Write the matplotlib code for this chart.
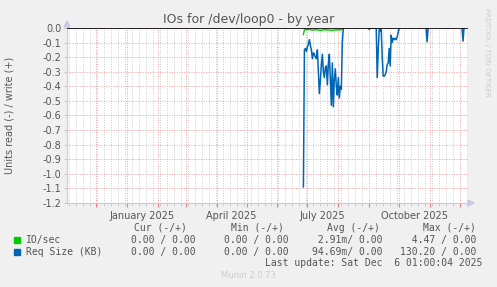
import numpy as np
import matplotlib
matplotlib.use("Agg")
import matplotlib.pyplot as plt
import matplotlib.dates as mdates

plt.rcParams['axes.unicode_minus'] = False

W, H = 497, 287

# read side values (plotted negative), one point per day
blue_dates = ['2025-06-27', '2025-06-28', '2025-06-29', '2025-06-30', '2025-07-01',
              '2025-07-02', '2025-07-03', '2025-07-04', '2025-07-05', '2025-07-06',
              '2025-07-07', '2025-07-08', '2025-07-09', '2025-07-10', '2025-07-11',
              '2025-07-12', '2025-07-13', '2025-07-14', '2025-07-15', '2025-07-16',
              '2025-07-17', '2025-07-18', '2025-07-19', '2025-07-20', '2025-07-21',
              '2025-07-22', '2025-07-23', '2025-07-24', '2025-07-25', '2025-07-26',
              '2025-07-27', '2025-07-28', '2025-07-29', '2025-07-30', '2025-07-31',
              '2025-08-01', '2025-08-02', '2025-08-03', '2025-08-04', '2025-08-05',
              '2025-08-06',
              '2025-09-01', '2025-09-02', '2025-09-08', '2025-09-09', '2025-09-10',
              '2025-09-11', '2025-09-12', '2025-09-13', '2025-09-14', '2025-09-15',
              '2025-09-16', '2025-09-17', '2025-09-18', '2025-09-19', '2025-09-20',
              '2025-09-21', '2025-09-22', '2025-09-23', '2025-09-24', '2025-09-25',
              '2025-09-26', '2025-09-27', '2025-09-28', '2025-09-29', '2025-09-30',
              '2025-10-01',
              '2025-10-28', '2025-10-29', '2025-10-30',
              '2025-12-03', '2025-12-04', '2025-12-05']
blue_vals = [-1.09, -0.15, -0.14, -0.16, -0.13,
             -0.11, -0.08, -0.12, -0.15, -0.21,
             -0.17, -0.18, -0.20, -0.21, -0.15,
             -0.30, -0.45, -0.36, -0.25, -0.18,
             -0.30, -0.34, -0.27, -0.26, -0.39,
             -0.25, -0.18, -0.35, -0.53, -0.24,
             -0.54, -0.35, -0.28, -0.40, -0.46,
             -0.34, -0.48, -0.40, -0.42, -0.10,
             0.0,
             -0.01, 0.0, 0.0, -0.34, -0.15,
             -0.01, -0.02, -0.01, -0.20, -0.33,
             -0.33, -0.32, -0.30, -0.25, -0.24,
             -0.14, -0.26, -0.05, -0.10, -0.07,
             -0.08, -0.07, -0.08, -0.06, -0.03,
             0.0,
             0.0, -0.095, 0.0,
             0.0, -0.09, 0.0]
# breaks between separate bursts
blue_breaks = ['2025-08-06', '2025-10-01', '2025-10-30']

green_dates = ['2025-06-27', '2025-06-28', '2025-07-02', '2025-07-06', '2025-07-10',
               '2025-07-14', '2025-07-18', '2025-07-22', '2025-07-26', '2025-07-30',
               '2025-08-03', '2025-08-05']
green_vals = [-0.045, -0.012, -0.010, -0.014, -0.012,
              -0.016, -0.012, -0.014, -0.016, -0.012,
              -0.014, -0.005]

legend_names = ['IO/sec', 'Req Size (KB)']
legend_colors = ['#00CC00', '#0066B3']
cur_vals = ['0.00 / 0.00', '0.00 / 0.00']
min_vals = ['0.00 / 0.00', '0.00 / 0.00']
avg_vals = [' 2.91m/ 0.00', '94.69m/ 0.00']
max_vals = ['  4.47 / 0.00', '130.20 / 0.00']

fig = plt.figure(figsize=(W / 100, H / 100), dpi=100, facecolor='#F0F0F0')
ax = fig.add_axes([67 / W, 1 - 203 / H, 401 / W, 175 / H])
ax.set_facecolor('white')

bd = np.array(blue_dates, dtype='datetime64[D]')
bv = np.array(blue_vals, dtype=float)
start = 0
for b in blue_breaks:
    end = int(np.where(bd == np.datetime64(b))[0][0]) + 1
    ax.plot(bd[start:end], bv[start:end], color='#0066B3', lw=1.1, zorder=3)
    start = end
ax.plot(bd[start:], bv[start:], color='#0066B3', lw=1.1, zorder=3)
ax.plot(np.array(green_dates, dtype='datetime64[D]'), green_vals,
        color='#00CC00', lw=1.0, zorder=3)
ax.axhline(0, color='black', lw=1.2, zorder=4)

ax.set_xlim(np.datetime64('2024-11-02'), np.datetime64('2025-12-09'))
ax.set_ylim(-1.2, 0.0)

# grid
ax.xaxis.set_major_locator(mdates.MonthLocator())
ax.xaxis.set_minor_locator(mdates.WeekdayLocator(byweekday=mdates.MO))
ax.xaxis.set_major_formatter(plt.NullFormatter())
ax.set_yticks(np.arange(-1.2, 0.01, 0.1))
ax.set_yticklabels(['%.1f' % v for v in np.arange(-1.2, 0.01, 0.1)])
ax.grid(True, which='major', axis='both', color='#F0A0A0', ls=(0, (1, 1.5)), lw=0.7)
ax.grid(True, which='minor', axis='x', color='#CCCCCC', ls=(0, (1, 1.5)), lw=0.7)
ax.tick_params(axis='x', which='major', length=3, color='#E08080', direction='out')
ax.tick_params(axis='x', which='minor', length=2, color='#C8C8C8', direction='out')
ax.tick_params(axis='y', length=2, color='#C8C8C8', labelsize=7, labelcolor='#555555', pad=2)

for s in ['top', 'right']:
    ax.spines[s].set_visible(False)
for s in ['left', 'bottom']:
    ax.spines[s].set_color('#C8C8E8')
    ax.spines[s].set_linewidth(0.8)

# quarter labels centred mid-month
for lab, d in [('January 2025', '2025-01-16'), ('April 2025', '2025-04-16'),
               ('July 2025', '2025-07-16'), ('October 2025', '2025-10-16')]:
    ax.text(np.datetime64(d), -0.045, lab, transform=ax.get_xaxis_transform(),
            ha='center', va='top', fontsize=7, color='#555555')

# axis arrows
fig.patches.append(plt.Polygon([[64 / W, 1 - 27 / H], [70 / W, 1 - 27 / H], [67 / W, 1 - 21 / H]],
                               closed=True, transform=fig.transFigure, color='#C8C8E8'))
fig.patches.append(plt.Polygon([[468 / W, 1 - 200 / H], [468 / W, 1 - 206 / H], [474 / W, 1 - 203 / H]],
                               closed=True, transform=fig.transFigure, color='#C8C8E8'))

fig.text(249 / W, 1 - 19 / H, 'IOs for /dev/loop0 - by year', ha='center', va='center',
         fontsize=9, color='#555555')
fig.text(10 / W, 1 - 115 / H, 'Units read (-) / write (+)', rotation=90, ha='center',
         va='center', fontsize=7, color='#555555')
fig.text(487 / W, 1 - 52 / H, 'RRDTOOL / TOBI OETIKER', rotation=270, ha='center',
         va='center', fontsize=5, color='#CCCCCC')

mono = dict(family='DejaVu Sans Mono', fontsize=7, color='#555555', va='center')
fig.text(134 / W, 1 - 228 / H, 'Cur (-/+)', **mono)
fig.text(231 / W, 1 - 228 / H, 'Min (-/+)', **mono)
fig.text(327 / W, 1 - 228 / H, 'Avg (-/+)', **mono)
fig.text(423 / W, 1 - 228 / H, 'Max (-/+)', **mono)
for i, name in enumerate(legend_names):
    y = 1 - (240 + 12 * i) / H
    fig.patches.append(plt.Rectangle((14 / W, y - 3 / H), 6 / W, 6 / H,
                                     transform=fig.transFigure, color=legend_colors[i]))
    fig.text(26 / W, y, name, **mono)
    fig.text(131 / W, y, cur_vals[i], **mono)
    fig.text(224 / W, y, min_vals[i], **mono)
    fig.text(383 / W, y, avg_vals[i], ha='right', **mono)
    fig.text(476 / W, y, max_vals[i], ha='right', **mono)
fig.text(482 / W, 1 - 263 / H, 'Last update: Sat Dec  6 01:00:04 2025', ha='right', **mono)
fig.text(248 / W, 1 - 276 / H, 'Munin 2.0.73', ha='center', va='center', fontsize=6,
         color='#CCCCCC')

fig.savefig('out.png', dpi=100, facecolor=fig.get_facecolor())
